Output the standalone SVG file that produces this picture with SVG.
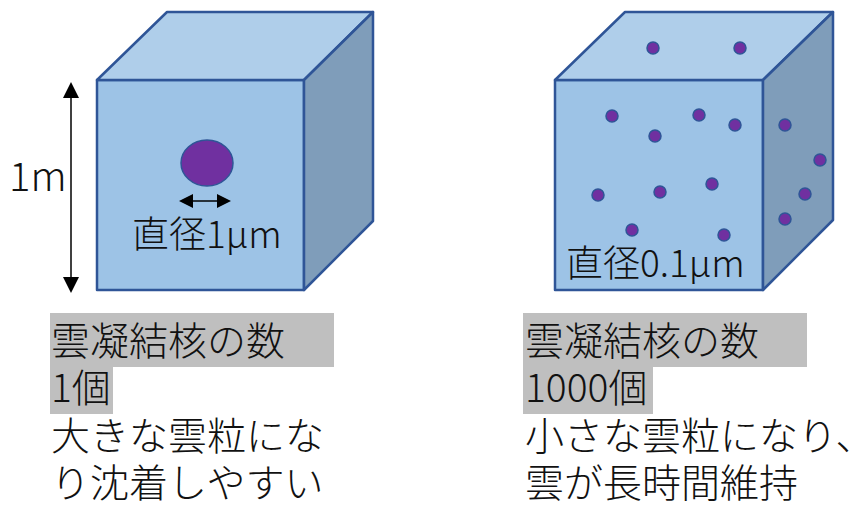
<svg xmlns="http://www.w3.org/2000/svg" width="860" height="506" viewBox="0 0 860 506">
<style>
.fr{fill:#9DC3E6;stroke:#2F5597;stroke-width:2.5;stroke-linejoin:round}
.tp{fill:#AFCEEA;stroke:#2F5597;stroke-width:2.5;stroke-linejoin:round}
.rt{fill:#7F9DBA;stroke:#2F5597;stroke-width:2.5;stroke-linejoin:round}
.dot{fill:#7030A0;stroke:#2F5597;stroke-width:1.5}
.t{font-family:"Noto Sans CJK JP","Noto Sans",sans-serif;font-weight:300;fill:#111}
.hl{fill:#BFBFBF}
</style>
<g id="cube-left">
<polygon class="fr" points="97,80 304,80 304,290 97,290"/>
<polygon class="tp" points="97,80 167,12 373,12 304,80"/>
<polygon class="rt" points="304,80 373,12 373,221 304,290"/>
<ellipse class="dot" cx="207" cy="163" rx="26" ry="23" stroke-width="2"/>
<text class="t" x="132" y="248" font-size="37">直径1μm</text>
</g>
<g id="cube-right">
<polygon class="fr" points="555,80 763,80 763,290 555,290"/>
<polygon class="tp" points="555,80 625,12 833,12 763,80"/>
<polygon class="rt" points="763,80 833,12 833,220 763,290"/>
<ellipse class="dot" cx="653" cy="48" rx="6" ry="6"/>
<ellipse class="dot" cx="740" cy="48" rx="6" ry="6"/>
<ellipse class="dot" cx="612" cy="116" rx="6" ry="6"/>
<ellipse class="dot" cx="699" cy="115" rx="6" ry="6"/>
<ellipse class="dot" cx="735" cy="125" rx="6" ry="6"/>
<ellipse class="dot" cx="655" cy="136" rx="6" ry="6"/>
<ellipse class="dot" cx="598" cy="195" rx="6" ry="6"/>
<ellipse class="dot" cx="660" cy="192" rx="6" ry="6"/>
<ellipse class="dot" cx="712" cy="184" rx="6" ry="6"/>
<ellipse class="dot" cx="632" cy="230" rx="6" ry="6"/>
<ellipse class="dot" cx="724" cy="235" rx="6" ry="6"/>
<ellipse class="dot" cx="785" cy="125" rx="6" ry="6"/>
<ellipse class="dot" cx="820" cy="160" rx="6" ry="6"/>
<ellipse class="dot" cx="805" cy="194" rx="6" ry="6"/>
<ellipse class="dot" cx="785" cy="219" rx="6" ry="6"/>
<text class="t" x="566" y="277" font-size="37">直径0.1μm</text>
</g>
<g id="connectors">
<line x1="71" y1="95" x2="71" y2="280" stroke="#000" stroke-width="1.5"/>
<polygon points="71,82 63,98 79,98" fill="#000"/>
<polygon points="71,293 63,277 79,277" fill="#000"/>
<line x1="190" y1="201" x2="220" y2="201" stroke="#000" stroke-width="1.5"/>
<polygon points="179,201 193,194 193,208" fill="#000"/>
<polygon points="231,201 217,194 217,208" fill="#000"/>
</g>
<g id="label-1m">
<text class="t" x="9" y="191" font-size="40">1m</text>
</g>
<g id="text-left">
<rect class="hl" x="50" y="313" width="284" height="54"/>
<rect class="hl" x="50" y="366" width="63" height="48"/>
<text class="t" x="51" y="355" font-size="39">雲凝結核の数</text>
<text class="t" x="51" y="402" font-size="39">1個</text>
<text class="t" x="51" y="450" font-size="39">大きな雲粒にな</text>
<text class="t" x="51" y="497" font-size="39">り沈着しやすい</text>
</g>
<g id="text-right">
<rect class="hl" x="523" y="313" width="284" height="54"/>
<rect class="hl" x="523" y="366" width="130" height="48"/>
<text class="t" x="525" y="355" font-size="39">雲凝結核の数</text>
<text class="t" x="525" y="402" font-size="39">1000個</text>
<text class="t" x="525" y="450" font-size="39">小さな雲粒になり、</text>
<text class="t" x="525" y="497" font-size="39">雲が長時間維持</text>
</g>
</svg>
